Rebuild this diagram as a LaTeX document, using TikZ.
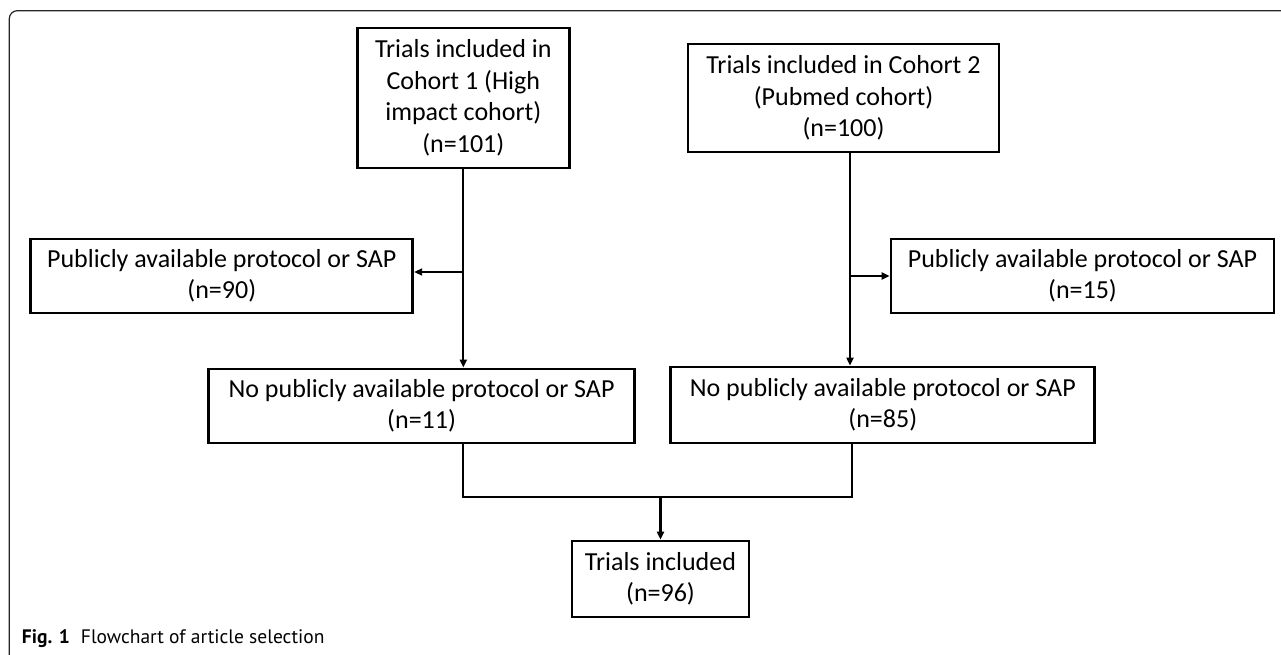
\documentclass[tikz,border=0pt]{standalone}
\usepackage{fontspec}
\setmainfont{Carlito}
\newfontfamily\capfont{PT Sans}
\usetikzlibrary{arrows.meta,calc}
\begin{document}
\begin{tikzpicture}[x=1pt,y=-1pt,
  flowbox/.style={draw=black, line width=2.8pt, align=center, inner sep=0pt, font=\fontsize{26}{31.5}\selectfont},
  conn/.style={line width=2.3pt, draw=black},
  arr/.style={conn, -{Triangle[length=8pt,width=7pt]}},
  frameline/.style={line width=1.2pt, draw=black!85, rounded corners=8pt}
]
\useasboundingbox (0,0) rectangle (1281,655);
\fill[white] (0,0) rectangle (1281,655);
\begin{scope}
\clip (0,0) rectangle (1281,655);
\draw[frameline] (9.3,720) -- (9.3,10.7) -- (1340,10.7);
\end{scope}

\node[flowbox, minimum width=212pt, minimum height=140pt] (c1) at (463.3,98) {Trials included in\\Cohort 1 (High\\impact cohort)\\(n=101)};
\node[flowbox, minimum width=311pt, minimum height=108pt] (c2) at (843.5,98) {Trials included in Cohort 2\\(Pubmed cohort)\\(n=100)};
\node[flowbox, minimum width=382pt, minimum height=74pt] (p90) at (221.8,276) {Publicly available protocol or SAP\\(n=90)};
\node[flowbox, minimum width=383pt, minimum height=74pt] (p15) at (1082.5,276) {Publicly available protocol or SAP\\(n=15)};
\node[flowbox, minimum width=426pt, minimum height=74pt] (n11) at (421.6,406) {No publicly available protocol or SAP\\(n=11)};
\node[flowbox, minimum width=424pt, minimum height=76pt] (n85) at (882.8,405) {No publicly available protocol or SAP\\(n=85)};
\node[flowbox, minimum width=177pt, minimum height=76pt] (tri) at (660.5,579) {Trials included\\(n=96)};

\draw[arr] (c1.south) -- (c1.south |- n11.north);
\coordinate (b1) at ($(c1.south |- p90.east)+(0,-4)$);
\draw[arr] (b1) -- (b1 -| p90.east);

\coordinate (c2s) at ([xshift=6.5pt]c2.south);
\draw[arr] (c2s) -- (c2s |- n85.north);
\draw[arr] (c2s |- p15.west) -- (p15.west);

\coordinate (yline) at (0,497);
\coordinate (m1) at (c1.south |- n11.south);
\coordinate (m2) at ([xshift=-31pt]n85.south);
\draw[conn] (m1) -- (m1 |- yline) -- (m2 |- yline) -- (m2);
\draw[arr] (tri.north |- yline) -- (tri.north);

\node[anchor=base west, font=\capfont\fontsize{19.5}{22}\selectfont, inner sep=0pt] (cap) at (21.7,643.5) {\textbf{Fig. 1}\hspace{11pt}Flowchart of article selection};
\end{tikzpicture}
\end{document}
